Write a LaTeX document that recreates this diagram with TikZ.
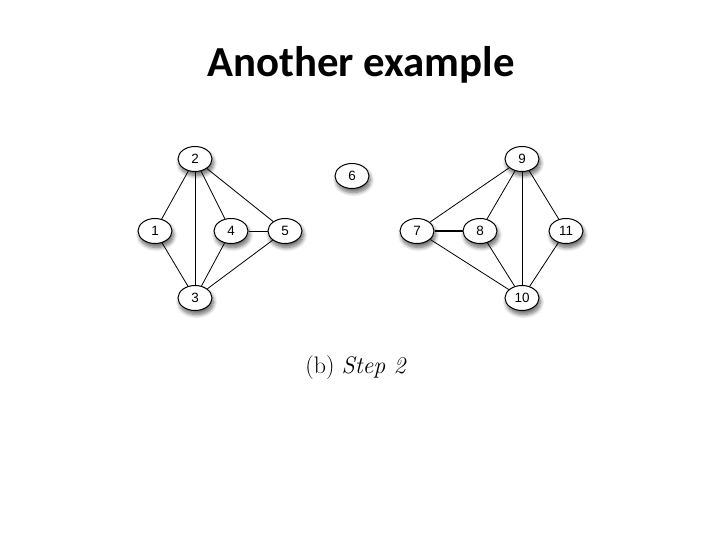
\documentclass[tikz,border=0pt]{standalone}
\usepackage{fontspec}
\setmainfont{Latin Modern Roman}
\newfontfamily\titlefont{Carlito}
\newfontfamily\nodefont{Liberation Sans}
\usetikzlibrary{shapes.geometric,shadows.blur}
\begin{document}
\begin{tikzpicture}[x=1bp,y=-1bp,
  vtx/.style={ellipse,draw=black,line width=1bp,fill=white,minimum width=34bp,minimum height=25bp,inner sep=0pt,
    font=\nodefont\fontsize{13.5}{14}\selectfont,
    blur shadow={shadow xshift=1.5bp,shadow yshift=-4bp,shadow opacity=60,shadow blur radius=4bp,shadow blur steps=8}},
  edge/.style={line width=0.8bp,black},
  thick edge/.style={line width=2bp,black}]
\useasboundingbox (0,0) rectangle (720,540);
\node[font=\titlefont\bfseries\fontsize{43}{50}\selectfont,anchor=base] (title) at (361,77) {Another example};
\node[vtx] (n2) at (195,159) {2};
\node[vtx] (n1) at (155,231) {1};
\node[vtx] (n4) at (231,231) {4};
\node[vtx] (n5) at (285,231) {5};
\node[vtx] (n3) at (195,298) {3};
\node[vtx] (n6) at (352,176) {6};
\node[vtx] (n9) at (522,159) {9};
\node[vtx] (n7) at (417,231) {7};
\node[vtx] (n8) at (480,231) {8};
\node[vtx] (n11) at (566,231) {11};
\node[vtx] (n10) at (522,298) {10};
\draw[edge] (n2) -- (n1);
\draw[edge] (n2) -- (n3);
\draw[edge] (n2) -- (n4);
\draw[edge] (n2) -- (n5);
\draw[edge] (n1) -- (n3);
\draw[edge] (n4) -- (n3);
\draw[edge] (n4) -- (n5);
\draw[edge] (n5) -- (n3);
\draw[edge] (n9) -- (n7);
\draw[edge] (n9) -- (n8);
\draw[edge] (n9) -- (n10);
\draw[edge] (n9) -- (n11);
\draw[thick edge] (n7) -- (n8);
\draw[edge] (n7) -- (n10);
\draw[edge] (n8) -- (n10);
\draw[edge] (n11) -- (n10);
\node[font=\fontsize{24}{28}\selectfont] (cap) at (356,368) {(b)\ \textit{Step 2}};
\end{tikzpicture}
\end{document}
